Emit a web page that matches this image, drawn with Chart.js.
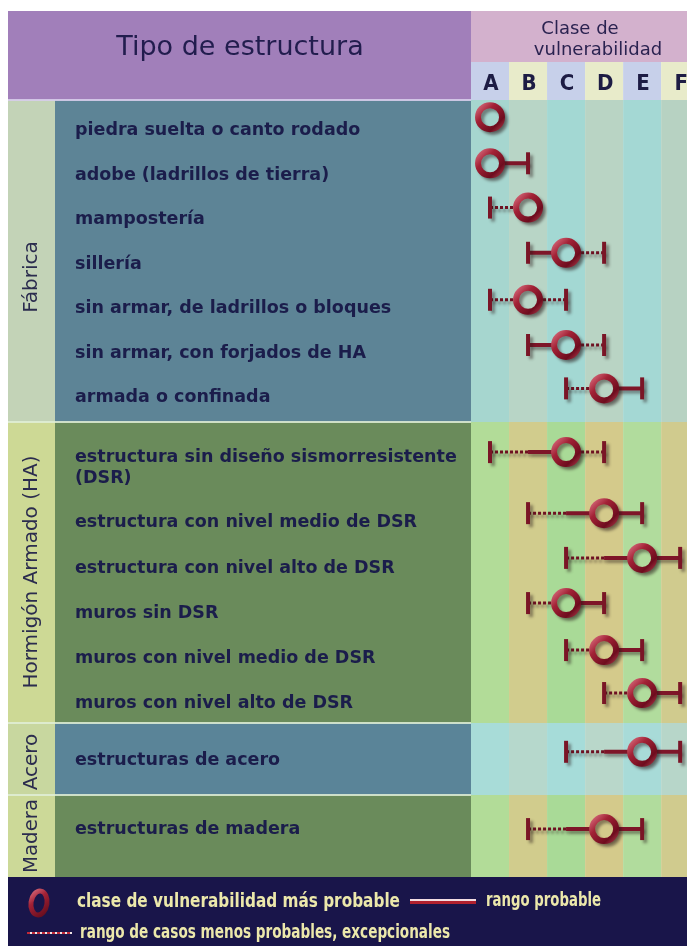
<!DOCTYPE html>
<html>
<head>
<meta charset="utf-8">
<script src="https://cdn.jsdelivr.net/npm/chart.js@4.4.1/dist/chart.umd.min.js"></script>
<style>
  html, body { margin: 0; padding: 0; background: #ffffff; }
  canvas { display: block; }
</style>
</head>
<body>
<canvas id="vulnChart" width="687" height="946"></canvas>
<script>
// ---- data ----
const classes = ["A", "B", "C", "D", "E", "F"];
const groups = ["Fábrica", "Hormigón Armado (HA)", "Acero", "Madera"];
const structures = [
  "piedra suelta o canto rodado",
  "adobe (ladrillos de tierra)",
  "mampostería",
  "sillería",
  "sin armar, de ladrillos o bloques",
  "sin armar, con forjados de HA",
  "armada o confinada",
  "estructura sin diseño sismorresistente\n(DSR)",
  "estructura con nivel medio de DSR",
  "estructura con nivel alto de DSR",
  "muros sin DSR",
  "muros con nivel medio de DSR",
  "muros con nivel alto de DSR",
  "estructuras de acero",
  "estructuras de madera"
];
const structureGroup = [0, 0, 0, 0, 0, 0, 0, 1, 1, 1, 1, 1, 1, 2, 3];
const mostLikely      = ["A", "A", "B", "C", "B", "C", "D", "C", "D", "E", "C", "D", "E", "E", "D"];
const probableLow     = [null, null, null, "B", null, "B", null, "B", "C", "D", null, null, null, "D", "C"];
const probableHigh    = [null, "B", null, null, null, null, "E", null, "E", "F", "D", "E", "F", "F", "E"];
const exceptionalLow  = [null, null, "A", null, "A", null, "C", "A", "B", "C", "B", "C", "D", "C", "B"];
const exceptionalHigh = [null, null, null, "D", "C", "D", null, "D", null, null, null, null, null, null, null];

// ---- layout ----
const rowPos = [0.38, 1.4, 2.38, 3.38, 4.42, 5.42, 6.38, 7.79, 9.14, 10.13, 11.13, 12.17, 13.12, 14.42, 16.13];
const labelY = [130, 175, 219, 264, 308, 353, 397, 457, 522, 568, 613, 658, 703, 760, 829];
const groupBand = [[100, 422], [422, 723], [723, 795], [795, 877]];
const groupLabelY = [277, 572, 762, 836];
const groupPanel = ["#5d8496", "#6a8b5b", "#5a8498", "#6a8b5b"];
const groupStrip = ["#c3d3b7", "#cdd995", "#c8d79f", "#ccd998"];
const groupStripes = [
  ["#a6d6cf", "#b8d5c6", "#a3d8d3", "#b9d4c4", "#a4d8d4", "#b7d2c2"],
  ["#b2dc98", "#d1cc8d", "#a9da97", "#d4ca8b", "#b1dc9d", "#d0cb8e"],
  ["#a8dcd8", "#b6d8cc", "#a6dcd9", "#b9d7ca", "#a8dbd8", "#b7d6c9"],
  ["#b2dc98", "#d1cc8d", "#a9da97", "#d4ca8b", "#b1dc9d", "#d0cb8e"]
];
const ci = (c) => classes.indexOf(c);

// build the mark datasets from the arrays
const dashedPts = [], solidPts = [], capPts = [], mostPts = [];
structures.forEach((s, i) => {
  const y = rowPos[i];
  const m = ci(mostLikely[i]);
  const pLo = probableLow[i] ? ci(probableLow[i]) : m;
  const pHi = probableHigh[i] ? ci(probableHigh[i]) : m;
  const eLo = exceptionalLow[i] ? ci(exceptionalLow[i]) : pLo;
  const eHi = exceptionalHigh[i] ? ci(exceptionalHigh[i]) : pHi;
  if (eLo < pLo) dashedPts.push({ x: eLo, y }, { x: pLo, y }, { x: null, y: null });
  if (eHi > pHi) dashedPts.push({ x: pHi, y }, { x: eHi, y }, { x: null, y: null });
  if (pLo < pHi) solidPts.push({ x: pLo, y }, { x: pHi, y }, { x: null, y: null });
  if (eLo < m) capPts.push({ x: eLo, y });
  if (eHi > m) capPts.push({ x: eHi, y });
  mostPts.push({ x: m, y, g: structureGroup[i] });
});

function ringColor(context) {
  const chart = context.chart;
  const p = context.raw;
  if (!p || !chart.scales || !chart.scales.x || !chart.scales.y) return "#8a1a2c";
  const px = chart.scales.x.getPixelForValue(p.x);
  const py = chart.scales.y.getPixelForValue(p.y);
  if (!isFinite(px) || !isFinite(py)) return "#8a1a2c";
  const g = chart.ctx.createLinearGradient(px - 14, py - 14, px + 14, py + 14);
  g.addColorStop(0, "#e07a8a");
  g.addColorStop(0.35, "#a32236");
  g.addColorStop(0.75, "#6e0c1e");
  g.addColorStop(1, "#b2404f");
  return g;
}

const shadowPlugin = {
  id: "shadow",
  beforeDatasetsDraw(chart) {
    const c = chart.ctx;
    c.save();
    c.shadowColor = "rgba(40, 25, 25, 0.45)";
    c.shadowBlur = 3;
    c.shadowOffsetX = 3;
    c.shadowOffsetY = 3;
  },
  afterDatasetsDraw(chart) {
    chart.ctx.restore();
  }
};

const panelPlugin = {
  id: "panels",
  beforeDraw(chart) {
    const c = chart.ctx;
    const x = chart.scales.x;
    const area = chart.chartArea;
    c.save();
    // header
    c.fillStyle = "#a17fba";
    c.fillRect(8, 11, area.left - 8, 89);
    c.fillStyle = "#d3b1cd";
    c.fillRect(area.left, 11, area.right - area.left, 51);
    classes.forEach((cl, i) => {
      const x0 = x.getPixelForValue(i - 0.5), x1 = x.getPixelForValue(i + 0.5);
      c.fillStyle = i % 2 === 0 ? "#c7d0ea" : "#e8ebca";
      c.fillRect(x0, 62, Math.min(x1, area.right) - x0, 38);
      c.fillStyle = "#1d1c44";
      c.font = "bold 22px 'DejaVu Sans Condensed', 'DejaVu Sans', sans-serif";
      c.textAlign = "center";
      c.textBaseline = "middle";
      c.fillText(cl, x.getPixelForValue(i) + 1, 84);
    });
    c.fillStyle = "#221d4e";
    c.font = "27px 'DejaVu Sans', sans-serif";
    c.fillText("Tipo de estructura", 240, 48, 252);
    c.font = "18px 'DejaVu Sans', sans-serif";
    c.fillStyle = "#2a2250";
    c.fillText("Clase de", 580, 29);
    c.fillText("vulnerabilidad", 598, 50, 152);

    // group bands
    groups.forEach((gname, g) => {
      const [y0, y1] = groupBand[g];
      c.fillStyle = groupStrip[g];
      c.fillRect(8, y0, 47, y1 - y0);
      c.fillStyle = groupPanel[g];
      c.fillRect(55, y0, area.left - 55, y1 - y0);
      groupStripes[g].forEach((col, i) => {
        const x0 = x.getPixelForValue(i - 0.5), x1 = x.getPixelForValue(i + 0.5);
        c.fillStyle = col;
        c.fillRect(x0, y0, Math.min(x1, area.right) - x0, y1 - y0);
      });
      c.save();
      c.translate(32, groupLabelY[g]);
      c.rotate(-Math.PI / 2);
      c.fillStyle = "#2b2c4e";
      c.font = "20px 'DejaVu Sans', sans-serif";
      c.textAlign = "center";
      c.textBaseline = "middle";
      c.fillText(gname, 0, 0, y1 - y0 - 8);
      c.restore();
      if (g > 0) {
        c.fillStyle = "rgba(225, 238, 215, 0.85)";
        c.fillRect(8, y0 - 1, area.left - 8, 2);
      }
    });
    c.fillStyle = "rgba(215, 205, 235, 0.9)";
    c.fillRect(8, 99, area.left - 8, 2);

    // structure labels
    c.fillStyle = "#1b1d4b";
    c.font = "bold 17.5px 'DejaVu Sans', sans-serif";
    c.textAlign = "left";
    c.textBaseline = "middle";
    structures.forEach((s, i) => {
      s.split("\n").forEach((line, k) => c.fillText(line, 75, labelY[i] + k * 21, 388));
    });

    // legend band
    c.fillStyle = "#19154a";
    c.fillRect(8, 877, 679, 69);
    const lg = c.createLinearGradient(28, 890, 48, 916);
    lg.addColorStop(0, "#e07a8a");
    lg.addColorStop(0.4, "#a32236");
    lg.addColorStop(1, "#5e0a1a");
    c.strokeStyle = lg;
    c.lineWidth = 5;
    c.beginPath();
    c.ellipse(39, 903, 8, 12, 0.15, 0, Math.PI * 2);
    c.stroke();
    c.fillStyle = "#b0202e";
    c.fillRect(410, 901, 66, 3);
    c.fillStyle = "#f2dce2";
    c.fillRect(410, 899, 66, 2);
    for (let dx = 27; dx < 71; dx += 5) {
      c.fillStyle = "#c02838";
      c.fillRect(dx, 932, 3, 2);
      c.fillStyle = "#f0e4e4";
      c.fillRect(dx + 3, 932, 2, 2);
    }
    c.fillStyle = "#ece8ab";
    c.font = "bold 20px 'Liberation Sans Narrow', 'DejaVu Sans Condensed', sans-serif";
    c.textAlign = "left";
    c.textBaseline = "middle";
    c.fillText("clase de vulnerabilidad más probable", 77, 902, 323);
    c.fillText("rango probable", 486, 901, 115);
    c.fillText("rango de casos menos probables, excepcionales", 80, 933, 370);
    c.restore();
  }
};

const ctx = document.getElementById("vulnChart");
new Chart(ctx, {
  type: "scatter",
  data: {
    datasets: [
      {
        type: "line",
        label: "rango de casos menos probables, excepcionales",
        data: dashedPts,
        showLine: true,
        spanGaps: false,
        borderColor: "#6e1122",
        borderWidth: 3,
        borderDash: [3, 2],
        pointRadius: 0,
        order: 3
      },
      {
        type: "line",
        label: "rango probable",
        data: solidPts,
        showLine: true,
        spanGaps: false,
        borderColor: "#7e1528",
        borderWidth: 4,
        pointRadius: 0,
        order: 2
      },
      {
        label: "extremos",
        data: capPts,
        pointStyle: "line",
        pointRotation: 90,
        pointRadius: 11,
        pointBorderWidth: 4,
        pointBorderColor: "#7a1526",
        order: 1
      },
      {
        label: "clase de vulnerabilidad más probable",
        data: mostPts,
        pointStyle: "circle",
        pointRadius: 12,
        pointBorderWidth: 6,
        pointBorderColor: ringColor,
        pointBackgroundColor: (context) => {
          const p = context.raw;
          return p ? groupStripes[p.g][p.x] : "transparent";
        },
        order: 0
      }
    ]
  },
  options: {
    responsive: false,
    devicePixelRatio: 1,
    animation: false,
    events: [],
    clip: false,
    layout: { autoPadding: false, padding: { left: 471, top: 100, right: 0, bottom: 69 } },
    scales: {
      x: { type: "linear", min: -0.5, max: 5.18, display: false },
      y: { type: "linear", min: 0, max: 17.19, reverse: true, display: false }
    },
    plugins: {
      legend: { display: false },
      tooltip: { enabled: false }
    }
  },
  plugins: [panelPlugin, shadowPlugin]
});
</script>
</body>
</html>
